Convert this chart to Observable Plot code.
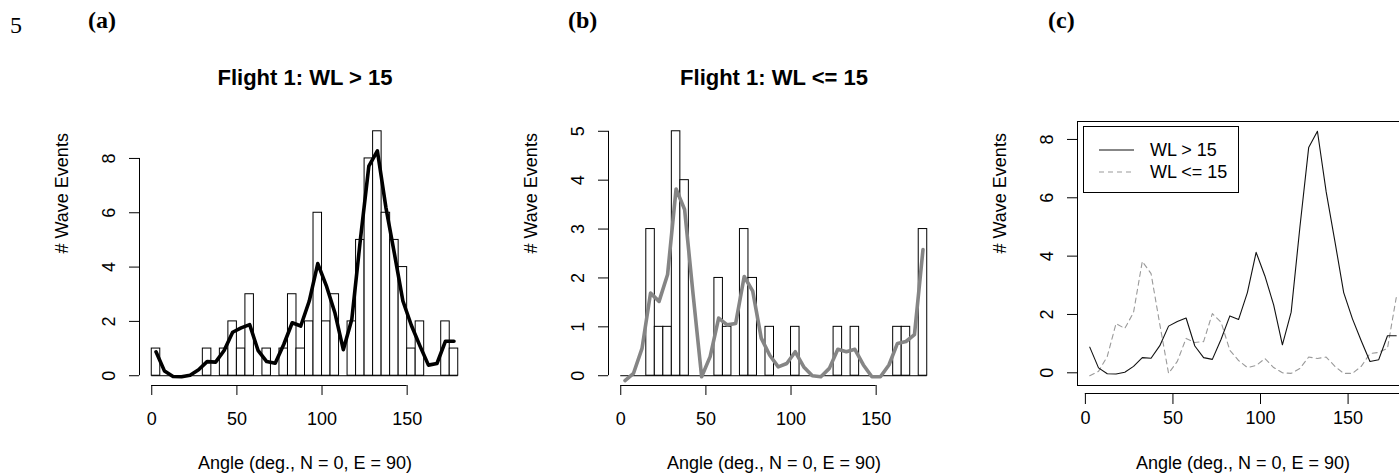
<!DOCTYPE html>
<html>
<head>
<meta charset="utf-8">
<script src="https://cdn.jsdelivr.net/npm/d3@7"></script>
<script src="https://cdn.jsdelivr.net/npm/@observablehq/plot@0.6"></script>
<style>
  html, body { margin: 0; padding: 0; background: #fff; overflow: hidden; }
  #page { position: relative; width: 1399px; height: 475px; overflow: hidden; background: #fff; }
  .panel { position: absolute; top: 0; }
  .serif { position: absolute; font-family: "Liberation Serif", "Times New Roman", Times, serif; font-size: 24px; color: #000; line-height: 1; }
  .serif.bold { font-weight: bold; }
  .legend { position: absolute; box-sizing: border-box; border: 1px solid #000; background: #fff;
            font-family: "Liberation Sans", Arial, Helvetica, sans-serif; font-size: 18px; color: #000; }
  .legend .row { position: absolute; left: 0; height: 20px; width: 100%; }
  .legend svg { position: absolute; left: 15px; top: 0; }
  .legend span { position: absolute; left: 66px; top: 0; line-height: 20px; white-space: nowrap; }
</style>
</head>
<body>
<div id="page"></div>
<script>
// 5-degree angle bins, 0–180 degrees
const binStart = [0, 5, 10, 15, 20, 25, 30, 35, 40, 45, 50, 55, 60, 65, 70, 75, 80, 85,
                  90, 95, 100, 105, 110, 115, 120, 125, 130, 135, 140, 145, 150, 155, 160, 165, 170, 175];
const binMid = [2.5, 7.5, 12.5, 17.5, 22.5, 27.5, 32.5, 37.5, 42.5, 47.5, 52.5, 57.5, 62.5, 67.5, 72.5, 77.5, 82.5, 87.5,
                92.5, 97.5, 102.5, 107.5, 112.5, 117.5, 122.5, 127.5, 132.5, 137.5, 142.5, 147.5, 152.5, 157.5, 162.5, 167.5, 172.5, 177.5];

// Wave event counts per bin, wavelength > 15
const countsLong = [1, 0, 0, 0, 0, 0, 1, 0, 1, 2, 1, 3, 0, 1, 0, 1, 3, 1,
                    2, 6, 2, 3, 0, 2, 5, 8, 9, 6, 5, 4, 1, 2, 0, 0, 2, 1];
// Wave event counts per bin, wavelength <= 15
const countsShort = [0, 0, 0, 3, 1, 1, 5, 4, 0, 0, 0, 2, 1, 0, 3, 2, 0, 1,
                     0, 0, 1, 0, 0, 0, 0, 1, 0, 1, 0, 0, 0, 0, 1, 1, 0, 3];

// Smoothed counts at bin centres
const smoothLong = [0.88, 0.17, -0.03, -0.04, 0.02, 0.22, 0.52, 0.50, 0.93, 1.60, 1.76, 1.88, 0.92, 0.52, 0.46, 1.15, 1.95, 1.83,
                    2.75, 4.13, 3.32, 2.33, 0.96, 2.08, 5.00, 7.72, 8.28, 6.20, 4.50, 2.75, 1.85, 1.10, 0.39, 0.45, 1.27, 1.27];
const smoothShort = [-0.10, 0.05, 0.56, 1.69, 1.52, 2.07, 3.82, 3.40, 1.66, -0.02, 0.39, 1.18, 1.04, 1.07, 2.03, 1.73, 0.77, 0.42,
                     0.18, 0.25, 0.49, 0.18, 0.00, -0.02, 0.15, 0.54, 0.49, 0.54, 0.22, -0.02, -0.02, 0.22, 0.66, 0.70, 0.84, 2.58];

const xTicks = [0, 50, 100, 150];
const yTicksA = [0, 2, 4, 6, 8];
const yTicksB = [0, 1, 2, 3, 4, 5];
const yTicksC = [0, 2, 4, 6, 8];

const titleA = "Flight 1: WL > 15";
const titleB = "Flight 1: WL <= 15";
const xLabel = "Angle (deg., N = 0, E = 90)";
const yLabel = "# Wave Events";
const legendLabels = ["WL > 15", "WL <= 15"];

const FONT = '"Liberation Sans", Arial, Helvetica, sans-serif';
const fmt = d => String(d);

// R-style axis extension: 4% padding on each side
const pad = ([a, b]) => { const d = (b - a) * 0.04; return [a - d, b + d]; };

// Shared plot-region geometry (pixels)
const ML = 139, MT = 121, MB = 90, PW = 331;
const W = ML + PW, H = 475;
const TICK = 10;

function axesMarks(xDom, yDom, yTicks, {box = false, title = null} = {}) {
  const marks = [];
  if (box) {
    // boxed panel: y axis sits on the box, x axis is offset just below it
    const off = 8;
    marks.push(Plot.frame({stroke: "#000", strokeWidth: 1}));
    marks.push(Plot.ruleY([yDom[0]], {x1: xTicks[0], x2: xDom[1], dy: off, stroke: "#000", strokeWidth: 1}));
    marks.push(Plot.axisX({ticks: xTicks, tickSize: 11, tickPadding: 6.5, dy: off, label: null, tickFormat: fmt,
      fontSize: 18, stroke: "#000", fill: "#000", strokeWidth: 1}));
  } else {
    // axis lines run from first to last tick
    marks.push(Plot.ruleY([yDom[0]], {x1: xTicks[0], x2: xTicks[xTicks.length - 1], stroke: "#000", strokeWidth: 1}));
    marks.push(Plot.ruleX([xDom[0]], {y1: yTicks[0], y2: yTicks[yTicks.length - 1], stroke: "#000", strokeWidth: 1}));
    marks.push(Plot.axisX({ticks: xTicks, tickSize: TICK, tickPadding: 16.5, label: null, tickFormat: fmt,
      fontSize: 18, stroke: "#000", fill: "#000", strokeWidth: 1}));
  }
  marks.push(Plot.axisY({ticks: yTicks, tickSize: TICK, tickPadding: 15, tickRotate: -90, label: null, tickFormat: fmt,
    fontSize: 18, stroke: "#000", fill: "#000", strokeWidth: 1}));
  // axis titles
  marks.push(Plot.text([xLabel], {frameAnchor: "bottom", dy: 78, lineAnchor: "middle", fontSize: 18, fill: "#000"}));
  marks.push(Plot.text([yLabel], {frameAnchor: "left", dx: -77, rotate: -90, lineAnchor: "middle", fontSize: 18, fill: "#000"}));
  if (title) {
    marks.push(Plot.text([title], {frameAnchor: "top", dy: -44, lineAnchor: "middle",
      fontSize: 22, fontWeight: "bold", fill: "#000"}));
  }
  return marks;
}

function makePlot(xDom, yDom, marks) {
  return Plot.plot({
    width: W, height: H,
    marginLeft: ML, marginRight: 0, marginTop: MT, marginBottom: MB,
    x: {domain: xDom, label: null}, y: {domain: yDom, label: null},
    style: {fontFamily: FONT, fontSize: "18px", color: "#000", background: "transparent",
            maxWidth: "none", overflow: "visible"},
    marks
  });
}

function histPanel(counts, smooth, yMax, yTicks, lineColor, title) {
  const xDom = pad([0, 180]);
  const yDom = pad([0, yMax]);
  const bins = binStart.map((s, i) => ({x1: s, x2: s + 5, y1: 0, y2: counts[i]}));
  const curve = binMid.map((m, i) => ({x: m, y: smooth[i]}));
  return makePlot(xDom, yDom, [
    Plot.rect(bins.filter(d => d.y2 > 0), {x1: "x1", x2: "x2", y1: "y1", y2: "y2",
      fill: "#fff", stroke: "#000", strokeWidth: 1}),
    // empty bins show as a flat outline along zero
    Plot.ruleY([0], {x1: binStart[0], x2: binStart[binStart.length - 1] + 5, stroke: "#000", strokeWidth: 1}),
    Plot.line(curve, {x: "x", y: "y", stroke: lineColor, strokeWidth: 3.6,
      strokeLinejoin: "round", strokeLinecap: "round"}),
    ...axesMarks(xDom, yDom, yTicks, {title})
  ]);
}

function comparePanel() {
  const xDom = pad([binMid[0], binMid[binMid.length - 1]]);
  const all = smoothLong.concat(smoothShort);
  const yDom = pad([d3.min(all), d3.max(all)]);
  const long = binMid.map((m, i) => ({x: m, y: smoothLong[i]}));
  const short = binMid.map((m, i) => ({x: m, y: smoothShort[i]}));
  return makePlot(xDom, yDom, [
    Plot.line(short, {x: "x", y: "y", stroke: "#9a9a9a", strokeWidth: 1.1, strokeDasharray: "5,4"}),
    Plot.line(long, {x: "x", y: "y", stroke: "#111", strokeWidth: 1.1}),
    ...axesMarks(xDom, yDom, yTicksC, {box: true})
  ]);
}

const page = document.getElementById("page");
const panels = [
  [histPanel(countsLong, smoothLong, d3.max(countsLong), yTicksA, "#000", titleA), 0],
  [histPanel(countsShort, smoothShort, d3.max(countsShort), yTicksB, "#858585", titleB), 469],
  [comparePanel(), 938]
];
for (const [svg, left] of panels) {
  const div = document.createElement("div");
  div.className = "panel";
  div.style.left = left + "px";
  div.style.width = W + "px";
  div.appendChild(svg);
  page.appendChild(div);
}

// legend for panel (c)
const legend = document.createElement("div");
legend.className = "legend";
Object.assign(legend.style, {left: "1083px", top: "126px", width: "156px", height: "67px"});
const styles = [{stroke: "#111", dash: ""}, {stroke: "#9a9a9a", dash: "5,4"}];
legendLabels.forEach((lab, i) => {
  const row = document.createElement("div");
  row.className = "row";
  row.style.top = (13 + i * 21.7) + "px";
  row.innerHTML = `<svg width="36" height="20"><line x1="0" x2="35" y1="10" y2="10" stroke="${styles[i].stroke}" stroke-width="1.1" stroke-dasharray="${styles[i].dash}"/></svg><span></span>`;
  row.querySelector("span").textContent = lab;
  legend.appendChild(row);
});
page.appendChild(legend);

// page line number and panel letters
const tags = [["5", 10, 13, false], ["(a)", 88, 8, true], ["(b)", 568, 8, true], ["(c)", 1048, 8, true]];
for (const [t, x, y, bold] of tags) {
  const s = document.createElement("div");
  s.className = "serif" + (bold ? " bold" : "");
  s.style.left = x + "px";
  s.style.top = y + "px";
  s.textContent = t;
  page.appendChild(s);
}
</script>
</body>
</html>
